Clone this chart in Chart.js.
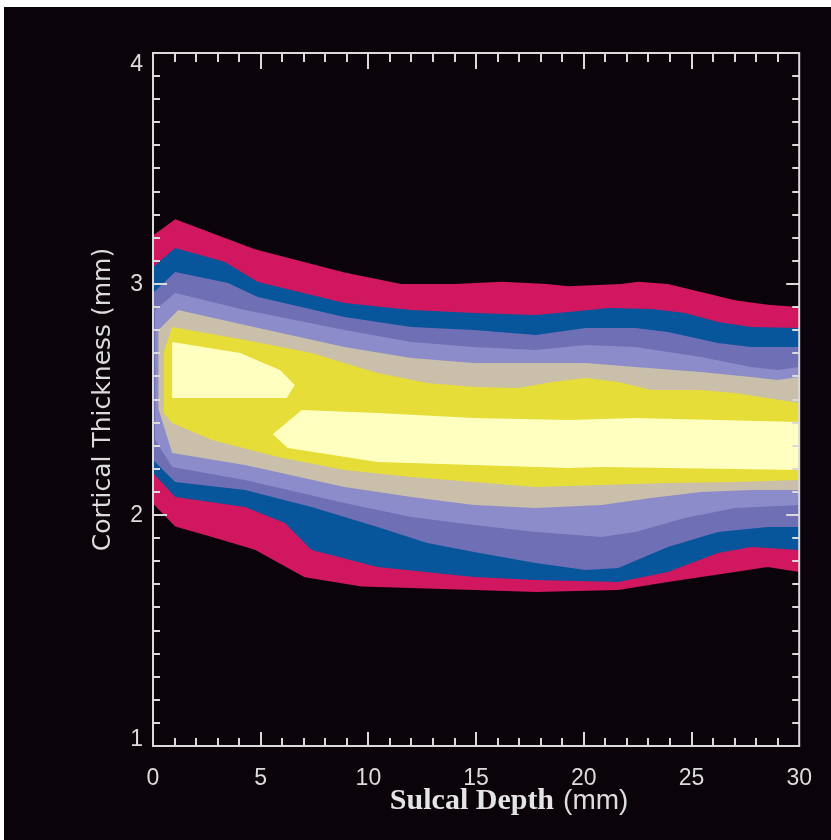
<!DOCTYPE html>
<html>
<head>
<meta charset="utf-8">
<script src="https://cdn.jsdelivr.net/npm/chart.js@4.4.1/dist/chart.umd.min.js"></script>
<style>
html,body{margin:0;padding:0;background:#ffffff;width:831px;height:840px;overflow:hidden}
#wrap{position:absolute;left:4px;top:7px;width:827px;height:833px;background:#0a030a}
canvas{display:block}
</style>
</head>
<body>
<div id="wrap"><canvas id="c" width="827" height="833"></canvas></div>
<script>
// ---- axis ticks / labels ----
const xTickValues = [0, 5, 10, 15, 20, 25, 30];
const yTickValues = [1, 2, 3, 4];
const xTitleMain = 'Sulcal Depth';
const xTitleUnit = '(mm)';
const yTitle = 'Cortical Thickness (mm)';

// ---- contour band boundaries: [sulcal depth, cortical thickness] ----
const magentaTop = [[0,3.21],[1.03,3.28],[4.73,3.15],[8.89,3.05],[11.52,3.00],[13.98,3.00],[16.2,3.01],[18.3,3.00],[19.29,2.99],[21.74,3.00],[22.53,3.01],[23.9,3.00],[25.44,2.965],[27.02,2.93],[28.53,2.91],[30,2.90]];
const magentaBottom = [[0,2.05],[1.03,1.95],[2.74,1.905],[4.73,1.85],[7.04,1.73],[9.68,1.69],[14.9,1.675],[17.77,1.667],[21.6,1.675],[23.9,1.71],[27.02,1.753],[28.53,1.775],[30,1.753]];

const blueTop = [[0,3.074],[1.03,3.156],[3.34,3.095],[4.87,3.009],[8.89,2.918],[11.99,2.887],[14.9,2.874],[17.77,2.866],[19.29,2.879],[21.14,2.896],[23.13,2.892],[24.69,2.874],[26.23,2.835],[27.76,2.814],[30,2.81]];
const blueBottom = [[0,2.182],[1.03,2.078],[4.27,2.035],[6.12,1.965],[7.36,1.848],[10.42,1.775],[14.9,1.732],[17.77,1.719],[21.6,1.71],[23.9,1.753],[26.23,1.835],[27.76,1.861],[30,1.848]];

const purpleDarkTop = [[0,2.961],[1.03,3.052],[3.48,3.004],[4.87,2.944],[8.89,2.857],[11.99,2.814],[14.9,2.801],[17.77,2.779],[20.08,2.81],[22.39,2.81],[23.9,2.792],[26.23,2.745],[27.76,2.727],[30,2.727]];
const purpleDarkBottom = [[0,2.238],[1.03,2.143],[4.27,2.108],[7.36,2.035],[10.42,1.948],[12.73,1.879],[14.9,1.84],[17.77,1.792],[20.08,1.762],[21.6,1.771],[23.9,1.861],[26.23,1.926],[28.53,1.948],[30,1.948]];

const purpleLightTop = [[0.1,2.887],[1.03,2.961],[4.27,2.887],[8.89,2.801],[11.99,2.749],[14.9,2.727],[17.77,2.714],[20.08,2.736],[22.39,2.727],[25.44,2.684],[27.76,2.641],[28.99,2.628],[30,2.641]];
const purpleLightBottom = [[0.1,2.325],[0.89,2.208],[4.27,2.152],[8.89,2.052],[11.99,1.991],[14.9,1.957],[17.77,1.926],[20.82,1.905],[22.39,1.926],[24.69,1.987],[27.02,2.03],[30,2.043]];

const tanTop = [[0.25,2.80],[1.17,2.887],[4.27,2.823],[8.89,2.727],[11.99,2.68],[14.9,2.658],[17.77,2.658],[20.08,2.658],[22.39,2.641],[25.44,2.619],[27.76,2.597],[28.99,2.584],[30,2.597]];
const tanBottom = [[0.25,2.46],[0.89,2.268],[4.27,2.216],[8.89,2.121],[11.99,2.078],[14.9,2.043],[17.77,2.03],[20.82,2.043],[23.13,2.074],[25.44,2.10],[27.76,2.108],[30,2.108]];

const yellowTop = [[0.5,2.706],[0.89,2.814],[4.27,2.758],[7.36,2.701],[10.42,2.615],[12.73,2.571],[14.9,2.554],[16.98,2.55],[18.51,2.576],[20.08,2.593],[21.6,2.576],[23.13,2.541],[25.44,2.541],[27.02,2.528],[30,2.485]];
const yellowBottom = [[0.5,2.44],[0.89,2.398],[2.74,2.325],[5.79,2.251],[8.89,2.195],[11.99,2.165],[14.9,2.143],[17.77,2.121],[20.82,2.13],[23.9,2.139],[27.02,2.143],[30,2.152]];

const whiteUpperTop = [[0.89,2.749],[4.04,2.701],[5.89,2.628],[6.58,2.563]];
const whiteUpperBottom = [[0.89,2.506],[6.21,2.506]];
const whiteLowerTop = [[5.56,2.35],[6.9,2.455],[10.42,2.442],[14.9,2.42],[19.29,2.411],[22.39,2.42],[30,2.403]];
const whiteLowerBottom = [[6.26,2.29],[10.42,2.229],[14.9,2.216],[19.29,2.203],[20.82,2.208],[23.9,2.203],[30,2.195]];

const bandLabels = ['level 1','level 2','level 3','level 4','level 5','level 6','level 7a','level 7b'];
const bandTops = [magentaTop, blueTop, purpleDarkTop, purpleLightTop, tanTop, yellowTop, whiteUpperTop, whiteLowerTop];
const bandBottoms = [magentaBottom, blueBottom, purpleDarkBottom, purpleLightBottom, tanBottom, yellowBottom, whiteUpperBottom, whiteLowerBottom];
const bandColors = ['#d0175f','#07559b','#6f6fb5','#8d8cca','#c9bfaa','#e6dd38','#ffffc0','#ffffc0'];

// ---- styles ----
const axisColor = '#dadada';
const textColor = '#dcdcdc';

function polygon(top, bottom) {
  const pts = top.map(p => ({x: p[0], y: p[1]}));
  const back = bottom.slice().reverse().map(p => ({x: p[0], y: p[1]}));
  return pts.concat(back);
}

const datasets = bandTops.map((top, i) => ({
  label: bandLabels[i],
  data: polygon(top, bandBottoms[i]),
  fill: 'shape',
  backgroundColor: bandColors[i],
  borderColor: 'rgba(0,0,0,0)',
  borderWidth: 0,
  pointRadius: 0,
  pointHoverRadius: 0,
  tension: 0,
  order: bandTops.length - i
}));

const framePlugin = {
  id: 'frameTicks',
  afterDatasetsDraw(chart) {
    const {ctx, chartArea: a, scales: {x, y}} = chart;
    ctx.save();
    ctx.strokeStyle = axisColor;
    ctx.lineWidth = 2;
    ctx.beginPath();
    ctx.rect(a.left, a.top, a.right - a.left, a.bottom - a.top);
    ctx.stroke();
    ctx.beginPath();
    for (let v = Math.ceil(x.min) + 1; v < x.max; v++) {
      const px = Math.round(x.getPixelForValue(v));
      const major = v % 5 === 0;
      ctx.moveTo(px, a.bottom); ctx.lineTo(px, a.bottom - (major ? 14 : 8));
      ctx.moveTo(px, a.top); ctx.lineTo(px, a.top + (major ? 16 : 9));
    }
    for (let k = Math.round(y.min * 10) + 1; k < Math.round(y.max * 10); k++) {
      const py = Math.round(y.getPixelForValue(k / 10));
      const major = k % 10 === 0;
      ctx.moveTo(a.left, py); ctx.lineTo(a.left + (major ? 14 : 7), py);
      ctx.moveTo(a.right, py); ctx.lineTo(a.right - (major ? 13 : 7), py);
    }
    ctx.stroke();
    // y tick labels (end labels nudged inside like the original)
    ctx.fillStyle = textColor;
    ctx.font = '23px "Liberation Sans", Arial, sans-serif';
    ctx.textAlign = 'right';
    ctx.textBaseline = 'middle';
    yTickValues.forEach(v => {
      let py = y.getPixelForValue(v);
      if (v === y.max) py += 12; else if (v === y.min) py -= 6; else py += 1;
      ctx.fillText(String(v), a.left - 10, py);
    });
    // x axis title: serif name + sans unit
    const cx = (a.left + a.right) / 2 + 33;
    const base = a.bottom + 63;
    ctx.textBaseline = 'alphabetic';
    ctx.textAlign = 'left';
    const f1 = 'bold 30px "Liberation Serif", "Times New Roman", serif';
    const f2 = '28px "Liberation Sans", Arial, sans-serif';
    ctx.font = f1; const w1 = ctx.measureText(xTitleMain).width;
    ctx.font = f2; const w2 = ctx.measureText(xTitleUnit).width;
    const gap = 9;
    const sx = cx - (w1 + gap + w2) / 2;
    ctx.fillStyle = '#e4e4e4';
    ctx.font = f1; ctx.fillText(xTitleMain, sx, base);
    ctx.fillStyle = textColor;
    ctx.font = f2; ctx.fillText(xTitleUnit, sx + w1 + gap, base);
    ctx.restore();
  }
};

new Chart(document.getElementById('c'), {
  type: 'line',
  data: {datasets},
  options: {
    responsive: false,
    animation: false,
    devicePixelRatio: 1,
    layout: {padding: {top: 46, right: 29, left: 0, bottom: 0}},
    plugins: {legend: {display: false}, tooltip: {enabled: false}},
    events: [],
    scales: {
      x: {
        type: 'linear', position: 'bottom', min: 0, max: 30,
        afterFit(s) { s.height = 94; },
        afterBuildTicks(s) { s.ticks = xTickValues.map(v => ({value: v})); },
        grid: {display: false, drawTicks: false},
        border: {display: false},
        ticks: {color: textColor, padding: 19, maxRotation: 0, autoSkip: false,
                font: {family: '"Liberation Sans", Arial, sans-serif', size: 23}}
      },
      y: {
        type: 'linear', position: 'left', min: 1, max: 4,
        afterFit(s) { s.width = 149; },
        afterBuildTicks(s) { s.ticks = yTickValues.map(v => ({value: v})); },
        grid: {display: false, drawTicks: false},
        border: {display: false},
        ticks: {display: false},
        title: {display: true, text: yTitle, color: textColor,
                font: {family: '"DejaVu Sans", sans-serif', size: 25},
                padding: {top: 84, bottom: 0}}
      }
    }
  },
  plugins: [framePlugin]
});
</script>
</body>
</html>
